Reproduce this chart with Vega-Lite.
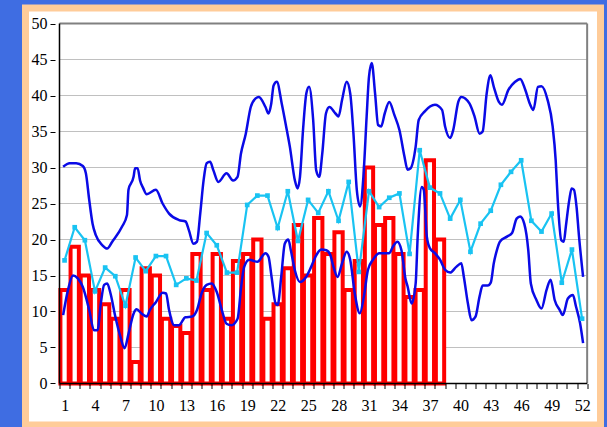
{
 "$schema": "https://vega.github.io/schema/vega-lite/v6.json",
 "width": 575, "height": 417,
 "autosize": {"type": "none"},
 "padding": {"left": 25.5, "top": 8, "right": 6.5, "bottom": 2},
 "background": "#3f6de2",
 "config": {"view": {"fill": "#ffffff", "stroke": "#FFCC99", "strokeWidth": 7}},
 "datasets": {
  "one": [{"k": 1}],
  "grid": [{"v":5},{"v":10},{"v":15},{"v":20},{"v":25},{"v":30},{"v":35},{"v":40},{"v":45}],
  "bars": [
   {"week":1,"value":13},{"week":2,"value":19},{"week":3,"value":15},{"week":4,"value":13},{"week":5,"value":11},{"week":6,"value":9},{"week":7,"value":13},{"week":8,"value":3},{"week":9,"value":16},{"week":10,"value":15},
   {"week":11,"value":9},{"week":12,"value":8},{"week":13,"value":7},{"week":14,"value":18},{"week":15,"value":13},{"week":16,"value":18},{"week":17,"value":9},{"week":18,"value":17},{"week":19,"value":18},{"week":20,"value":20},
   {"week":21,"value":9},{"week":22,"value":11},{"week":23,"value":16},{"week":24,"value":22},{"week":25,"value":15},{"week":26,"value":23},{"week":27,"value":18},{"week":28,"value":21},{"week":29,"value":13},{"week":30,"value":17},
   {"week":31,"value":30},{"week":32,"value":22},{"week":33,"value":23},{"week":34,"value":18},{"week":35,"value":12},{"week":36,"value":13},{"week":37,"value":31},{"week":38,"value":20}
  ],
  "cyan": [
   {"week":1,"value":17.1},{"week":2,"value":21.7},{"week":3,"value":19.9},{"week":4,"value":12.8},{"week":5,"value":16.1},{"week":6,"value":14.9},{"week":7,"value":10.8},{"week":8,"value":17.5},{"week":9,"value":15.6},{"week":10,"value":17.7},
   {"week":11,"value":17.7},{"week":12,"value":13.7},{"week":13,"value":14.6},{"week":14,"value":14.3},{"week":15,"value":20.9},{"week":16,"value":19.2},{"week":17,"value":15.4},{"week":18,"value":15.4},{"week":19,"value":24.8},{"week":20,"value":26.1},
   {"week":21,"value":26.1},{"week":22,"value":21.6},{"week":23,"value":26.7},{"week":24,"value":19.8},{"week":25,"value":25.5},{"week":26,"value":23.7},{"week":27,"value":26.7},{"week":28,"value":22.6},{"week":29,"value":28},{"week":30,"value":15.5},
   {"week":31,"value":26.7},{"week":32,"value":24.5},{"week":33,"value":25.8},{"week":34,"value":26.4},{"week":35,"value":18},{"week":36,"value":32.4},{"week":37,"value":27.2},{"week":38,"value":26.4},{"week":39,"value":22.9},{"week":40,"value":25.5},
   {"week":41,"value":18.3},{"week":42,"value":22.2},{"week":43,"value":24},{"week":44,"value":27.6},{"week":45,"value":29.4},{"week":46,"value":31},{"week":47,"value":22.6},{"week":48,"value":21.1},{"week":49,"value":23.6},{"week":50,"value":14},
   {"week":51,"value":18.6},{"week":52,"value":9}
  ],
  "upper": [
   {"week":0.86,"value":30.1},{"week":1.5,"value":30.6},{"week":2.15,"value":30.6},{"week":2.8,"value":30.2},{"week":3.1,"value":29.2},{"week":3.43,"value":25.5},{"week":3.76,"value":22.2},{"week":4.08,"value":20.6},{"week":4.73,"value":19.2},{"week":5.2,"value":18.75},
   {"week":5.7,"value":19.7},{"week":6.67,"value":21.8},{"week":7.15,"value":23.4},{"week":7.3,"value":26.9},{"week":7.8,"value":28.7},{"week":7.95,"value":29.9},{"week":8.2,"value":29.9},{"week":8.44,"value":28.2},{"week":8.76,"value":27.1},{"week":9.09,"value":26.3},
   {"week":10.0,"value":26.9},{"week":10.66,"value":25},{"week":11.3,"value":23.6},{"week":12.28,"value":22.7},{"week":12.92,"value":22.5},{"week":13.25,"value":21.3},{"week":13.7,"value":19.4},{"week":14.05,"value":19.7},{"week":14.37,"value":23.6},{"week":14.7,"value":28.2},
   {"week":15.0,"value":30.6},{"week":15.34,"value":30.8},{"week":15.67,"value":29.6},{"week":16.15,"value":28},{"week":16.96,"value":29.2},{"week":17.6,"value":28.2},{"week":18.05,"value":28.7},{"week":18.38,"value":31.9},{"week":18.86,"value":34.7},{"week":19.35,"value":38.4},
   {"week":19.83,"value":39.6},{"week":20.15,"value":39.8},{"week":20.8,"value":38.4},{"week":21.1,"value":37.5},{"week":21.37,"value":38.9},{"week":21.6,"value":41.4},{"week":21.92,"value":41.9},{"week":22.4,"value":38.9},{"week":22.9,"value":35.2},{"week":23.2,"value":32.9},
   {"week":23.7,"value":28.2},{"week":23.96,"value":27.1},{"week":24.2,"value":28.7},{"week":24.5,"value":35.2},{"week":24.83,"value":40.3},{"week":25.1,"value":41.2},{"week":25.5,"value":36.6},{"week":25.8,"value":29.6},{"week":26.1,"value":28.7},{"week":26.4,"value":32},
   {"week":26.76,"value":37.5},{"week":27.1,"value":38.4},{"week":27.7,"value":37.5},{"week":28.0,"value":37.1},{"week":28.35,"value":39.4},{"week":28.8,"value":41.9},{"week":29.15,"value":40.3},{"week":29.47,"value":34.7},{"week":29.8,"value":26.9},{"week":30.12,"value":24.6},
   {"week":30.45,"value":28.7},{"week":30.77,"value":37.1},{"week":31.0,"value":42.6},{"week":31.27,"value":44.5},{"week":31.6,"value":40.3},{"week":31.9,"value":35.9},{"week":32.2,"value":35.7},{"week":32.55,"value":37.5},{"week":33.0,"value":39.1},{"week":33.5,"value":37.3},
   {"week":34.0,"value":35.2},{"week":34.5,"value":31.5},{"week":34.8,"value":29.7},{"week":35.1,"value":29.9},{"week":35.6,"value":32.9},{"week":35.9,"value":36.6},{"week":36.5,"value":37.8},{"week":37.5,"value":38.7},{"week":38.2,"value":38},{"week":38.5,"value":35.7},
   {"week":39.0,"value":34.1},{"week":39.3,"value":35.2},{"week":39.8,"value":39.1},{"week":40.1,"value":39.8},{"week":40.9,"value":38.9},{"week":41.4,"value":37.1},{"week":41.9,"value":34.7},{"week":42.2,"value":35.0},{"week":42.6,"value":40.3},{"week":42.97,"value":42.8},
   {"week":43.3,"value":41.2},{"week":43.8,"value":39.1},{"week":44.1,"value":38.7},{"week":44.75,"value":40.8},{"week":45.4,"value":41.9},{"week":45.9,"value":42.3},{"week":46.4,"value":40.8},{"week":46.84,"value":38.9},{"week":47.2,"value":38},{"week":47.65,"value":41.2},
   {"week":48.0,"value":41.3},{"week":48.6,"value":39.4},{"week":49.1,"value":35.7},{"week":49.4,"value":31.0},{"week":49.6,"value":25.5},{"week":49.95,"value":19.9},{"week":50.2,"value":19.7},{"week":50.4,"value":21.8},{"week":50.74,"value":25.5},{"week":50.97,"value":27.1},
   {"week":51.2,"value":26.9},{"week":51.45,"value":24.6},{"week":51.7,"value":20.4},{"week":52.1,"value":14.8}
  ],
  "lower": [
   {"week":0.86,"value":9.5},{"week":1.34,"value":13},{"week":1.83,"value":15},{"week":2.3,"value":14.6},{"week":2.8,"value":13.4},{"week":3.43,"value":10.2},{"week":3.9,"value":7.4},{"week":4.25,"value":7.4},{"week":4.57,"value":11.1},{"week":4.9,"value":13.7},
   {"week":5.2,"value":13.9},{"week":5.53,"value":12.5},{"week":6.0,"value":9.3},{"week":6.5,"value":6.5},{"week":6.92,"value":4.9},{"week":7.3,"value":6.9},{"week":7.8,"value":9.7},{"week":8.1,"value":10.3},{"week":8.6,"value":9.7},{"week":9.1,"value":9.3},
   {"week":9.4,"value":10.2},{"week":10.0,"value":11.3},{"week":10.66,"value":12.6},{"week":11.0,"value":12.5},{"week":11.3,"value":10.2},{"week":11.8,"value":8.1},{"week":12.28,"value":8.1},{"week":12.9,"value":9.2},{"week":13.57,"value":9.3},{"week":14.05,"value":10.2},
   {"week":14.5,"value":12.5},{"week":15.0,"value":13.7},{"week":15.5,"value":13.9},{"week":16.0,"value":12.7},{"week":16.5,"value":10.2},{"week":16.96,"value":8.3},{"week":17.44,"value":8.1},{"week":18.05,"value":9.0},{"week":18.4,"value":13.4},{"week":18.7,"value":16.2},
   {"week":19.2,"value":17.2},{"week":20.0,"value":16.9},{"week":20.8,"value":18.1},{"week":21.1,"value":17.6},{"week":21.4,"value":14.8},{"week":21.8,"value":11.1},{"week":22.0,"value":10.9},{"week":22.35,"value":14.8},{"week":22.7,"value":19.4},{"week":23.05,"value":20},
   {"week":23.3,"value":18.5},{"week":23.7,"value":15.7},{"week":24.2,"value":14.1},{"week":24.8,"value":14.8},{"week":25.3,"value":16.2},{"week":25.8,"value":17.8},{"week":26.3,"value":18.6},{"week":26.8,"value":18.5},{"week":27.2,"value":17.8},{"week":27.5,"value":16.2},
   {"week":27.9,"value":14.8},{"week":28.35,"value":16.7},{"week":28.8,"value":18.3},{"week":29.15,"value":17.2},{"week":29.6,"value":12.5},{"week":30.1,"value":9.75},{"week":30.5,"value":12.1},{"week":30.9,"value":15.8},{"week":31.4,"value":17.2},{"week":32.0,"value":18.1},
   {"week":32.55,"value":18.1},{"week":33.0,"value":18.1},{"week":33.35,"value":19.0},{"week":33.8,"value":19.7},{"week":34.2,"value":18.5},{"week":34.6,"value":14.5},{"week":34.8,"value":13.5},{"week":35.2,"value":11.1},{"week":35.6,"value":13.9},{"week":35.8,"value":20.4},
   {"week":36.2,"value":27.3},{"week":36.4,"value":26.9},{"week":36.7,"value":20.4},{"week":37.0,"value":18.8},{"week":37.5,"value":18.1},{"week":38.0,"value":17.2},{"week":38.5,"value":15.8},{"week":39.0,"value":15.4},{"week":39.6,"value":16.2},{"week":40.1,"value":16.7},
   {"week":40.35,"value":14.8},{"week":40.75,"value":11.1},{"week":41.1,"value":8.8},{"week":41.5,"value":9.3},{"week":41.9,"value":12.1},{"week":42.2,"value":13.6},{"week":42.7,"value":13.6},{"week":43.0,"value":14},{"week":43.3,"value":16.7},{"week":43.6,"value":18.5},
   {"week":43.9,"value":19.7},{"week":44.6,"value":20.4},{"week":45.1,"value":20.9},{"week":45.55,"value":22.9},{"week":45.9,"value":23.2},{"week":46.3,"value":22.2},{"week":46.7,"value":18.5},{"week":46.95,"value":13.9},{"week":47.5,"value":11.6},{"week":48.0,"value":10.4},
   {"week":48.5,"value":13},{"week":48.9,"value":14.4},{"week":49.3,"value":11.6},{"week":49.8,"value":10.2},{"week":50.1,"value":9.5},{"week":50.6,"value":11.8},{"week":51.1,"value":12.3},{"week":51.4,"value":10.7},{"week":51.8,"value":8.4},{"week":52.1,"value":5.6}
  ]
 },
 "layer": [
  {
   "data": {"name": "grid"},
   "mark": {"type": "rule", "color": "#C0C0C0", "strokeWidth": 1},
   "encoding": {
    "y": {"field": "v", "type": "quantitative", "scale": {"domain": [-5.764, 52.153], "nice": false, "zero": false},
     "axis": {"title": null, "zindex": 1, "values": [0,5,10,15,20,25,30,35,40,45,50], "tickCount": 100, "format": "d", "offset": -29.5, "domain": false, "grid": false, "tickSize": 5, "tickColor": "#000000", "tickWidth": 1,
      "labelFont": "Liberation Serif", "labelFontSize": 16, "labelColor": "#000000", "labelPadding": 3, "labelOverlap": false, "labelFlush": false, "labelBound": false}},
    "x": {"datum": 0.5, "type": "quantitative", "scale": {"domain": [-2.357, 53.323], "nice": false, "zero": false},
     "axis": {"title": null, "zindex": 1, "tickCount": 200, "values": [0.5,1.5,2.5,3.5,4.5,5.5,6.5,7.5,8.5,9.5,10.5,11.5,12.5,13.5,14.5,15.5,16.5,17.5,18.5,19.5,20.5,21.5,22.5,23.5,24.5,25.5,26.5,27.5,28.5,29.5,30.5,31.5,32.5,33.5,34.5,35.5,36.5,37.5,38.5,39.5,40.5,41.5,42.5,43.5,44.5,45.5,46.5,47.5,48.5,49.5,50.5,51.5,52.5],
      "labelExpr": "(datum.value + 0.5 - 1) % 3 === 0 ? format(datum.value + 0.5, 'd') : ''",
      "labelOffset": 5.16, "offset": -41.5, "domain": false, "grid": false, "ticks": true, "tickSize": 5, "tickColor": "#000000", "tickWidth": 1,
      "labelFont": "Liberation Serif", "labelFontSize": 16, "labelColor": "#000000", "labelPadding": 9, "labelOverlap": false, "labelFlush": false, "labelBound": false}},
    "x2": {"datum": 52.5}
   }
  },
  {
   "data": {"name": "bars"},
   "mark": {"type": "bar", "size": 8.3, "fill": "#ffffff", "stroke": "#FF0000", "strokeWidth": 4},
   "encoding": {
    "x": {"field": "week", "type": "quantitative", "scale": {"domain": [-2.357, 53.323], "nice": false, "zero": false}},
    "y": {"field": "value", "type": "quantitative", "scale": {"domain": [-5.764, 52.153], "nice": false, "zero": false}}
   }
  },
  {
   "data": {"name": "upper"},
   "mark": {"type": "line", "color": "#0A0AE6", "strokeWidth": 2.5, "interpolate": "monotone"},
   "encoding": {
    "x": {"field": "week", "type": "quantitative", "scale": {"domain": [-2.357, 53.323], "nice": false, "zero": false}},
    "y": {"field": "value", "type": "quantitative", "scale": {"domain": [-5.764, 52.153], "nice": false, "zero": false}}
   }
  },
  {
   "data": {"name": "lower"},
   "mark": {"type": "line", "color": "#0A0AE6", "strokeWidth": 2.5, "interpolate": "monotone"},
   "encoding": {
    "x": {"field": "week", "type": "quantitative", "scale": {"domain": [-2.357, 53.323], "nice": false, "zero": false}},
    "y": {"field": "value", "type": "quantitative", "scale": {"domain": [-5.764, 52.153], "nice": false, "zero": false}}
   }
  },
  {
   "data": {"name": "cyan"},
   "mark": {"type": "line", "color": "#19C3F2", "strokeWidth": 2.2, "point": {"shape": "square", "size": 22, "filled": true, "color": "#19C3F2"}},
   "encoding": {
    "x": {"field": "week", "type": "quantitative", "scale": {"domain": [-2.357, 53.323], "nice": false, "zero": false}},
    "y": {"field": "value", "type": "quantitative", "scale": {"domain": [-5.764, 52.153], "nice": false, "zero": false}}
   }
  },
  {
   "data": {"name": "one"},
   "mark": {"type": "rule", "color": "#808080", "strokeWidth": 2},
   "encoding": {
    "y": {"datum": 50, "type": "quantitative", "scale": {"domain": [-5.764, 52.153], "nice": false, "zero": false}},
    "x": {"datum": 0.5, "type": "quantitative", "scale": {"domain": [-2.357, 53.323], "nice": false, "zero": false}},
    "x2": {"datum": 52.5}
   }
  },
  {
   "data": {"name": "one"},
   "mark": {"type": "rule", "color": "#808080", "strokeWidth": 2},
   "encoding": {
    "x": {"datum": 52.5, "type": "quantitative", "scale": {"domain": [-2.357, 53.323], "nice": false, "zero": false}},
    "y": {"datum": 0, "type": "quantitative", "scale": {"domain": [-5.764, 52.153], "nice": false, "zero": false}},
    "y2": {"datum": 50}
   }
  },
  {
   "data": {"name": "one"},
   "mark": {"type": "rule", "color": "#000000", "strokeWidth": 1.5},
   "encoding": {
    "x": {"datum": 0.5, "type": "quantitative", "scale": {"domain": [-2.357, 53.323], "nice": false, "zero": false}},
    "y": {"datum": 0, "type": "quantitative", "scale": {"domain": [-5.764, 52.153], "nice": false, "zero": false}},
    "y2": {"datum": 50}
   }
  },
  {
   "data": {"name": "one"},
   "mark": {"type": "rule", "color": "#000000", "strokeWidth": 1.5},
   "encoding": {
    "y": {"datum": 0, "type": "quantitative", "scale": {"domain": [-5.764, 52.153], "nice": false, "zero": false}},
    "x": {"datum": 0.5, "type": "quantitative", "scale": {"domain": [-2.357, 53.323], "nice": false, "zero": false}},
    "x2": {"datum": 52.5}
   }
  }
 ]
}
